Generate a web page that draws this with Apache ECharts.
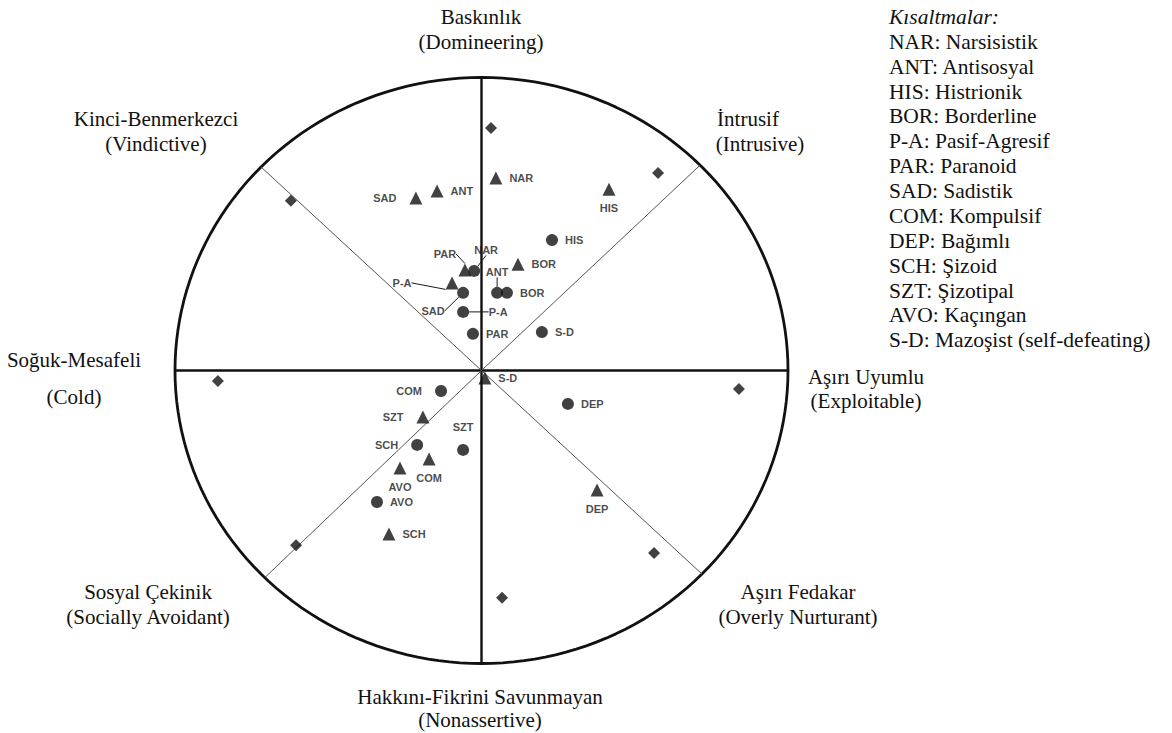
<!DOCTYPE html>
<html><head><meta charset="utf-8">
<script src="https://cdn.jsdelivr.net/npm/echarts@6/dist/echarts.min.js"></script>
<style>html,body{margin:0;padding:0;background:#fff}#c{width:1172px;height:733px}</style>
</head><body><div id="c"></div>
<script>
// ---- data (circle radius = 1 on both axes) ----
const triNames  = ['NAR','ANT','SAD','HIS','BOR','PAR','P-A','S-D','DEP','SZT','COM','AVO','SCH'];
const triX      = [0.047,-0.145,-0.214,0.416,0.119,-0.054,-0.096,0.011,0.377,-0.191,-0.171,-0.266,-0.302];
const triY      = [0.657,0.613,0.589,0.619,0.363,0.343,0.299,-0.026,-0.408,-0.159,-0.302,-0.333,-0.558];
const circNames = ['NAR','ANT','BOR','HIS','SAD','P-A','PAR','S-D','DEP','COM','SZT','SCH','AVO'];
const circX     = [-0.024,0.051,0.083,0.230,-0.060,-0.060,-0.028,0.197,0.282,-0.132,-0.060,-0.210,-0.341];
const circY     = [0.340,0.265,0.265,0.445,0.265,0.200,0.125,0.131,-0.114,-0.070,-0.271,-0.254,-0.449];
const octantX   = [0.031,0.576,0.840,0.563,0.067,-0.605,-0.860,-0.622];
const octantY   = [0.828,0.674,-0.063,-0.623,-0.776,-0.596,-0.036,0.579];
const mainSpokeAngles = [0,90,180,270];
const diagSpokeAngles = [44.5,136,225,316];
const octantTitles = [['Baskınlık','(Domineering)'],['İntrusif','(Intrusive)'],['Aşırı Uyumlu','(Exploitable)'],['Aşırı Fedakar','(Overly Nurturant)'],['Hakkını-Fikrini Savunmayan','(Nonassertive)'],['Sosyal Çekinik','(Socially Avoidant)'],['Soğuk-Mesafeli','(Cold)'],['Kinci-Benmerkezci','(Vindictive)']];
const abbrTitle = 'Kısaltmalar:';
const abbrCodes = ['NAR','ANT','HIS','BOR','P-A','PAR','SAD','COM','DEP','SCH','SZT','AVO','S-D'];
const abbrNames = ['Narsisistik','Antisosyal','Histrionik','Borderline','Pasif-Agresif','Paranoid','Sadistik','Kompulsif','Bağımlı','Şizoid','Şizotipal','Kaçıngan','Mazoşist (self-defeating)'];

// ---- layout / style ----
const triPlace  = ['right','right','left','bottom','right',{dx:-20,dy:-16},{dx:-50,dy:0},'right','bottom','left','bottom','bottom','right'];
const circPlace = [{dx:12,dy:-21},{dx:0,dy:-21},'right','right',{dx:-30,dy:18},{dx:35,dy:0},'right','right','right','left','top','left','right'];
const titlePos = [[481,17,481,42],[748,119,760,144],[866,377,866,401],[798,592,798,617],[480,697,480,720],[148,592,148,617],[74,360,74,397],[156,119,156,144]];
const serif = '21px "Liberation Serif", "Times New Roman", serif';
const legendFont = '21.5px "Liberation Serif", "Times New Roman", serif';

function items(names, xs, ys, places) {
  return names.map((n, i) => {
    const p = places[i];
    const it = {name: n, value: [xs[i], ys[i]]};
    if (typeof p === 'string') {
      it.label = {position: p, distance: p === 'left' ? 13 : (p === 'top' ? 11 : 7)};
    } else {
      it.label = {position: 'inside'};
      it.labelLine = {show: true, length2: 0, lineStyle: {color: '#1a1a1a', width: 1}};
    }
    return it;
  });
}
function layoutFn(places) {
  return function (params) {
    const p = places[params.dataIndex];
    return (p && typeof p === 'object') ? {dx: p.dx, dy: p.dy} : {};
  };
}
const ellipse = [];
for (let a = 0; a <= 360; a += 2) ellipse.push([Math.cos(a * Math.PI / 180), Math.sin(a * Math.PI / 180)]);
function spoke(a, w, c) {
  const r = a * Math.PI / 180;
  return {type: 'line', data: [[0, 0], [Math.cos(r), Math.sin(r)]], showSymbol: false, silent: true,
    lineStyle: {color: c, width: w}, z: 1, animation: false};
}
const labelStyle = {show: true, formatter: '{b}', fontFamily: '"Liberation Sans", Arial, sans-serif',
  fontWeight: 'bold', fontSize: 11, color: '#1a1a1a'};

const series = [
  {type: 'line', data: ellipse, showSymbol: false, silent: true, lineStyle: {color: '#111', width: 2.8}, z: 1, animation: false},
  ...mainSpokeAngles.map(a => spoke(a, 2.4, '#111')),
  ...diagSpokeAngles.map(a => spoke(a, 1, '#555')),
  {type: 'scatter', symbol: 'diamond', symbolSize: 12, itemStyle: {color: '#111'}, z: 3, animation: false,
    data: octantX.map((x, i) => [x, octantY[i]])},
  {type: 'scatter', symbol: 'triangle', symbolSize: 13, itemStyle: {color: '#111'}, z: 3, animation: false,
    label: labelStyle, labelLayout: layoutFn(triPlace), data: items(triNames, triX, triY, triPlace)},
  {type: 'scatter', symbol: 'circle', symbolSize: 12, itemStyle: {color: '#111'}, z: 3, animation: false,
    label: labelStyle, labelLayout: layoutFn(circPlace), data: items(circNames, circX, circY, circPlace)}
];

const graphic = [];
octantTitles.forEach((t, i) => {
  const p = titlePos[i];
  [0, 1].forEach(k => graphic.push({type: 'text', x: p[k * 2], y: p[k * 2 + 1],
    style: {text: t[k], font: serif, fill: '#111', textAlign: 'center', textVerticalAlign: 'middle', verticalAlign: 'middle'}}));
});
const legX = 889, legY0 = 17, legStep = 24.87;
graphic.push({type: 'text', x: legX, y: legY0, style: {text: abbrTitle, font: 'italic ' + legendFont, fill: '#111', textVerticalAlign: 'middle', verticalAlign: 'middle'}});
abbrCodes.forEach((c, i) => graphic.push({type: 'text', x: legX, y: legY0 + legStep * (i + 1),
  style: {text: c + ': ' + abbrNames[i], font: legendFont, fill: '#111', textVerticalAlign: 'middle', verticalAlign: 'middle'}}));

const chart = echarts.init(document.getElementById('c'), null, {renderer: 'svg'});
chart.setOption({
  animation: false,
  backgroundColor: '#fff',
  grid: {left: 144.35, top: 48.2, width: 674.3, height: 644.6},
  xAxis: {type: 'value', min: -1.1, max: 1.1, show: false},
  yAxis: {type: 'value', min: -1.1, max: 1.1, show: false},
  series: series,
  graphic: graphic
});
</script></body></html>
